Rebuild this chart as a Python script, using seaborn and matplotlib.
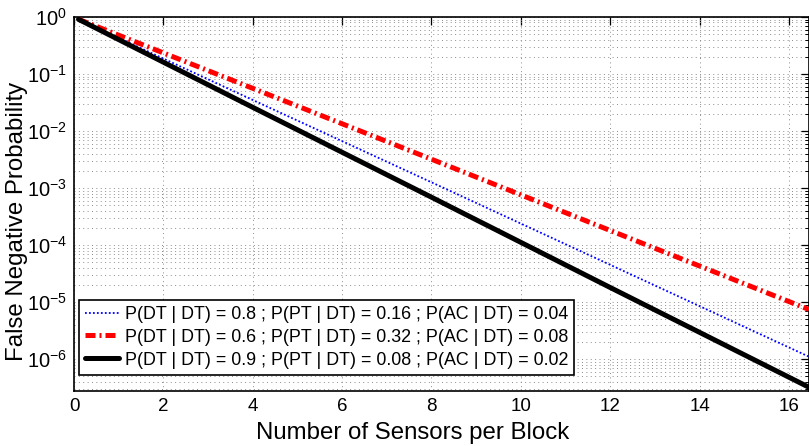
import matplotlib
matplotlib.use("Agg")
import matplotlib.pyplot as plt
import matplotlib.ticker as mticker
import numpy as np
import pandas as pd
import seaborn as sns

# Number of sensors per block at which each curve is sampled
sensors = [0.1, 4, 8, 12, 16.45]

# False negative probability for each detection-confusion setting
fn_p08 = [0.91, 3.5e-2, 1.26e-3, 4.5e-5, 1.1e-6]
fn_p06 = [0.91, 5.6e-2, 3.2e-3, 1.8e-4, 7.4e-6]
fn_p09 = [0.91, 2.6e-2, 6.9e-4, 1.8e-5, 3.2e-7]

labels = [
    "P(DT | DT) = 0.8 ; P(PT | DT) = 0.16 ; P(AC | DT) = 0.04",
    "P(DT | DT) = 0.6 ; P(PT | DT) = 0.32 ; P(AC | DT) = 0.08",
    "P(DT | DT) = 0.9 ; P(PT | DT) = 0.08 ; P(AC | DT) = 0.02",
]
series = [fn_p08, fn_p06, fn_p09]
colors = ["#0000ff", "#ff0000", "#000000"]
styles = [(0, (1, 1.2)), (0, (2.0, 0.8, 0.4, 0.8)), "-"]
widths = [1.3, 3.6, 3.6]

sns.set_theme(style="white")
plt.rcParams["font.family"] = ["Liberation Sans", "DejaVu Sans"]
plt.rcParams["mathtext.fontset"] = "custom"
plt.rcParams["mathtext.rm"] = "Liberation Sans"
plt.rcParams["text.color"] = "black"
plt.rcParams["axes.labelcolor"] = "black"

fig = plt.figure(figsize=(8.09, 4.46), dpi=100)
ax = fig.add_axes([0.0915, 0.1233, 0.9085, 0.8387])

for vals, lab, c, ls, lw in zip(series, labels, colors, styles, widths):
    df = pd.DataFrame({"x": sensors, "y": vals})
    sns.lineplot(data=df, x="x", y="y", ax=ax, color=c, linewidth=lw,
                 label=lab, linestyle=ls, zorder=3)

ax.set_yscale("log")
y_lo = 10 ** -6.56
ax.set_xlim(0, 16.45)
ax.set_ylim(y_lo, 1)
ax.set_xticks(np.arange(0, 17, 2))

# decade ticks and 2..9 sub-ticks, kept inside the visible range
major = [10.0 ** e for e in range(-6, 1)]
minor = [m * 10.0 ** e for e in range(-7, 0) for m in range(2, 10) if m * 10.0 ** e >= y_lo]
ax.yaxis.set_major_locator(mticker.FixedLocator(major))
ax.yaxis.set_major_formatter(mticker.LogFormatterSciNotation())
ax.yaxis.set_minor_locator(mticker.FixedLocator(minor))
ax.yaxis.set_minor_formatter(mticker.NullFormatter())

grid_kw = dict(color="#8c8c8c", linestyle=(0, (1, 3.5)), linewidth=0.7)
ax.grid(True, which="major", axis="both", **grid_kw)
ax.grid(True, which="minor", axis="y", **grid_kw)
ax.set_axisbelow(True)

ax.tick_params(which="both", direction="in", top=True, right=True, colors="black")
ax.tick_params(axis="x", labelsize=13.5, pad=5)
ax.tick_params(axis="y", labelsize=14.5, pad=5)
ax.tick_params(which="major", length=6, width=0.9)
ax.tick_params(which="minor", length=3, width=0.7)
for s in ax.spines.values():
    s.set_color("black")
    s.set_linewidth(1.2)

ax.set_xlabel("Number of Sensors per Block", fontsize=17.3)
ax.set_ylabel("False Negative Probability", fontsize=17.3)
ax.xaxis.set_label_coords(0.461, -0.083)
ax.yaxis.set_label_coords(-0.062, 0.452)

leg = ax.legend(loc="lower left", bbox_to_anchor=(0.0068, 0.043), fontsize=12.9,
                frameon=True, fancybox=False, edgecolor="black", framealpha=1,
                handlelength=1.9, handletextpad=0.3, borderpad=0.35,
                labelspacing=0.33, borderaxespad=0.0)
leg.get_frame().set_linewidth(1.2)
for t in leg.get_texts():
    t.set_color("black")

fig.savefig("out.png", dpi=100)
